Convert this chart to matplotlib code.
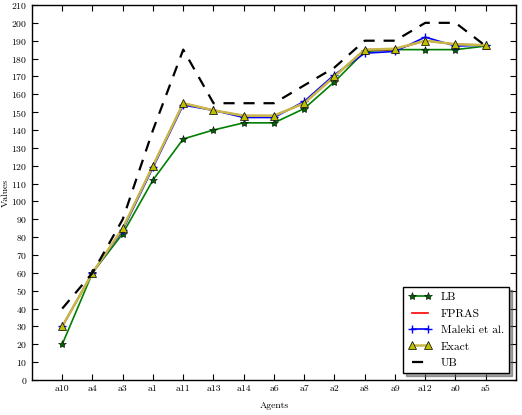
import numpy as np
import matplotlib
matplotlib.use('Agg')
import matplotlib.pyplot as plt

plt.rcParams['font.family'] = ['cmr10', 'DejaVu Serif']
plt.rcParams['mathtext.fontset'] = 'cm'
plt.rcParams['axes.formatter.use_mathtext'] = True

# 数据
agents = ['a10', 'a4', 'a3', 'a1', 'a11', 'a13', 'a14', 'a6', 'a7', 'a2', 'a8', 'a9', 'a12', 'a0', 'a5']
lb = [20, 60, 82, 112, 135, 140, 144, 144, 152, 167, 184, 185, 185, 185, 187]
fpras = [30, 60, 85, 120, 155, 151, 148, 148, 155, 170, 185, 185, 190, 188, 187.5]
maleki = [30, 60, 84, 119, 154, 151, 147, 147, 156, 171, 183, 184, 192, 187, 187.5]
exact = [30, 60, 85, 120, 155, 151, 148, 148, 155, 170, 185, 185.5, 190, 188, 187.5]
ub = [40, 60, 90, 140, 185, 155, 155, 155, 165, 175, 190, 190, 200, 200, 187]

x = np.arange(len(agents))

fig = plt.figure(figsize=(5.22, 4.15), dpi=100)
ax = fig.add_axes([0.0613, 0.0843, 0.9272, 0.9037])

ax.plot(x, lb, color='green', marker='*', markersize=6, markerfacecolor='darkgreen',
        markeredgecolor='black', markeredgewidth=0.4, linewidth=1.2, label='LB')
ax.plot(x, fpras, color='red', linewidth=1.2, label='FPRAS')
ax.plot(x, maleki, color='blue', marker='+', markersize=6, linewidth=1.2, label='Maleki et al.')
ax.plot(x, exact, color='#c8b84a', marker='^', markersize=6, markerfacecolor='#bfbf00',
        markeredgecolor='black', markeredgewidth=0.5, linewidth=1.8, label='Exact')
ax.plot(x, ub, color='black', linestyle='--', dashes=(5, 4), linewidth=1.6, label='UB')

ax.set_xlim(-1, 15)
ax.set_ylim(0, 210)
ax.set_xticks(x)
ax.set_xticklabels(agents)
ax.set_yticks(np.arange(0, 211, 10))
ax.tick_params(direction='in', top=True, right=True, length=4, labelsize=7)
ax.set_xlabel('Agents', fontsize=7)
ax.set_ylabel('Values', fontsize=7)
ax.xaxis.labelpad = 6
ax.yaxis.set_label_coords(-0.046, 0.5)

leg = ax.legend(loc='lower right', shadow=True, fancybox=False, fontsize=8.3,
                borderpad=0.45, labelspacing=0.55, handlelength=2.0, numpoints=2,
                framealpha=1, borderaxespad=0.6)
leg.get_frame().set_edgecolor('black')

for s in ax.spines.values():
    s.set_linewidth(1.0)

plt.savefig('out.png', dpi=100, facecolor='white')
